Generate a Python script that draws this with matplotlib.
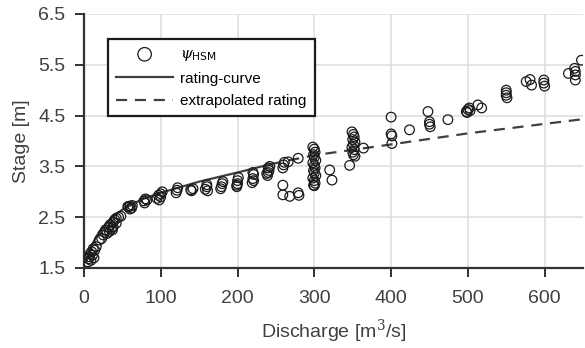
import matplotlib
matplotlib.use('Agg')
import matplotlib.pyplot as plt
import numpy as np

plt.rcParams['font.family'] = ['Liberation Sans', 'DejaVu Sans']
plt.rcParams['mathtext.fontset'] = 'dejavuserif'

# observed stage-discharge pairs (psi_HSM)
obs_q = [5, 6, 7, 8, 9, 10, 11, 12, 13, 14, 16, 20, 23, 25, 27, 28, 30, 32, 34, 36,
         38, 40, 42, 45, 48, 33, 37, 38, 42,
         58, 60, 62, 60, 63, 57,
         78, 80, 79, 82,
         95, 97, 100, 102, 98, 100,
         120, 121, 122,
         140, 142, 139,
         158, 160, 160, 161,
         179, 180, 181, 178,
         199, 200, 200, 201, 199,
         219, 220, 221, 220, 221,
         239, 240, 241, 240, 242, 238,
         259, 260, 261, 266, 279,
         259, 259, 268, 279, 280,
         298, 300, 301, 299, 300, 302, 298, 300, 301, 299, 300, 302, 298, 300, 301, 299, 300,
         320, 323, 346,
         349, 351, 352, 350, 353, 351, 349, 352, 350, 351, 353,
         364,
         400, 400, 401, 401,
         424,
         448, 450, 450, 451,
         474,
         498, 500, 502, 503, 499,
         513, 518,
         550, 550, 550, 551,
         576, 581, 583,
         599, 599, 600,
         631,
         639, 640, 640, 640,
         648]
obs_h = [1.62, 1.68, 1.72, 1.78, 1.65, 1.82, 1.75, 1.88, 1.70, 1.85, 1.92, 2.05, 2.08, 2.15, 2.20, 2.25, 2.18, 2.30, 2.35, 2.28,
         2.40, 2.45, 2.38, 2.50, 2.52, 2.22, 2.25, 2.31, 2.48,
         2.70, 2.72, 2.68, 2.66, 2.73, 2.71,
         2.82, 2.86, 2.78, 2.84,
         2.87, 2.93, 2.96, 3.00, 2.84, 2.90,
         2.98, 3.03, 3.08,
         3.02, 3.06, 3.04,
         3.05, 3.10, 3.14, 3.02,
         3.10, 3.16, 3.20, 3.06,
         3.10, 3.16, 3.22, 3.28, 3.13,
         3.18, 3.26, 3.34, 3.38, 3.22,
         3.32, 3.38, 3.42, 3.47, 3.50, 3.36,
         3.47, 3.53, 3.58, 3.59, 3.66,
         3.13, 2.94, 2.91, 2.98, 2.93,
         3.88, 3.84, 3.78, 3.73, 3.68, 3.62, 3.57, 3.52, 3.47, 3.42, 3.37, 3.32, 3.27, 3.22, 3.17, 3.13, 3.12,
         3.43, 3.23, 3.52,
         4.18, 4.13, 4.08, 4.03, 3.98, 3.93, 3.88, 3.83, 3.78, 3.73, 3.70,
         3.86,
         4.47, 4.14, 4.10, 3.95,
         4.22,
         4.58, 4.38, 4.33, 4.28,
         4.42,
         4.58, 4.62, 4.65, 4.60, 4.56,
         4.71, 4.65,
         5.00, 4.95, 4.90, 4.85,
         5.17, 5.21, 5.10,
         5.20, 5.14, 5.08,
         5.33,
         5.43, 5.37, 5.30, 5.20,
         5.59]

# rating curve
rating_q = [3, 10, 20, 35, 50, 75, 100, 150, 200, 242]
rating_h = [1.62, 1.95, 2.22, 2.48, 2.65, 2.85, 2.98, 3.20, 3.38, 3.54]

# extrapolated part
extrap_q = [242, 300, 385, 500, 650]
extrap_h = [3.54, 3.72, 3.90, 4.15, 4.43]

fig = plt.figure(figsize=(5.85, 3.48), dpi=100)
ax = fig.add_axes([0.1436, 0.2299, 0.853, 0.7299])

ax.scatter(obs_q, obs_h, s=48, facecolors='none', edgecolors='#1a1a1a',
           linewidths=0.9, label=r'$\psi_{\mathsf{HSM}}$', zorder=3)
ax.plot(rating_q, rating_h, color='#404040', lw=1.6, label='rating-curve', zorder=2)
ax.plot(extrap_q, extrap_h, color='#404040', lw=1.6, ls=(0, (5, 3.5)),
        label='extrapolated rating', zorder=2)

ax.set_xlim(0, 650)
ax.set_ylim(1.5, 6.5)
ax.set_xticks([0, 100, 200, 300, 400, 500, 600])
ax.set_yticks([1.5, 2.5, 3.5, 4.5, 5.5, 6.5])
ax.grid(True, color='#dcdcdc', lw=1.1)
ax.set_axisbelow(True)

for side in ['top', 'right']:
    ax.spines[side].set_visible(False)
for side in ['left', 'bottom']:
    ax.spines[side].set_color('#333333')
    ax.spines[side].set_linewidth(1.6)

ax.tick_params(direction='out', length=6.5, width=1.4, color='#333333',
               labelsize=14, labelcolor='#404040', pad=7)
ax.tick_params(axis='x', pad=9)

ax.set_xlabel('Discharge [m$^3$/s]', fontsize=14, color='#404040', labelpad=8)
ax.set_ylabel('Stage [m]', fontsize=14, color='#404040', labelpad=6)

leg = ax.legend(loc='upper left', bbox_to_anchor=(0.048, 0.902), fontsize=11,
                frameon=True, fancybox=False, borderpad=0.55, labelspacing=0.55,
                handlelength=3.7, handletextpad=0.45, borderaxespad=0,
                markerscale=1.4)
leg.get_frame().set_edgecolor('#1a1a1a')
leg.get_frame().set_linewidth(1.6)
leg.get_frame().set_alpha(1)

fig.savefig('out.png', dpi=100)
